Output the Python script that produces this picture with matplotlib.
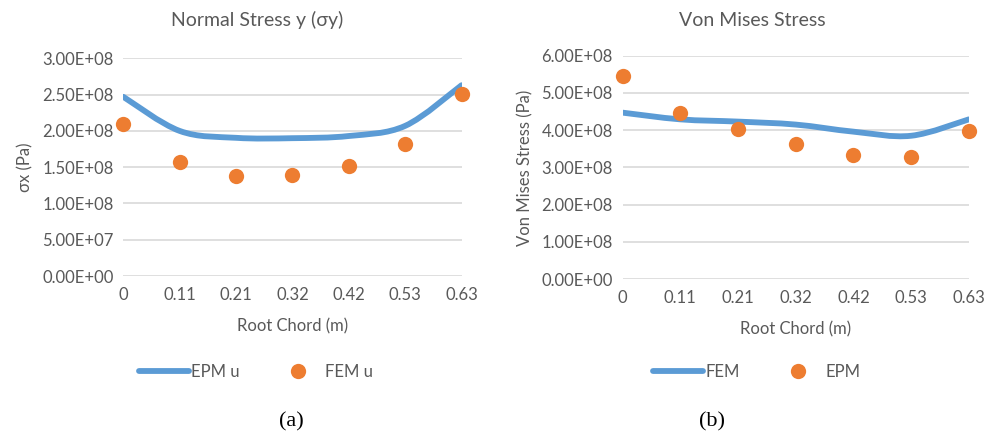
import matplotlib.pyplot as plt
import numpy as np
from matplotlib.path import Path
from matplotlib.patches import PathPatch
from matplotlib.ticker import FuncFormatter
from matplotlib.lines import Line2D

plt.rcParams["font.family"] = ["Lato", "DejaVu Sans"]

BLUE = "#5B9BD5"
ORANGE = "#ED7D31"
GRID = "#D9D9D9"
TXT = "#595959"

# 数据
chord_labels = ["0", "0.11", "0.21", "0.32", "0.42", "0.53", "0.63"]

sy_epm = [2.47e8, 2.00e8, 1.905e8, 1.90e8, 1.93e8, 2.07e8, 2.63e8]
sy_fem = [2.09e8, 1.566e8, 1.377e8, 1.395e8, 1.51e8, 1.82e8, 2.51e8]

vm_fem = [4.47e8, 4.29e8, 4.23e8, 4.15e8, 3.96e8, 3.85e8, 4.29e8]
vm_epm = [5.45e8, 4.47e8, 4.04e8, 3.63e8, 3.34e8, 3.28e8, 3.99e8]


def smooth_path(xs, ys):
    """Excel 风格平滑线：Catmull-Rom 转三次 Bezier。"""
    pts = np.column_stack([xs, ys]).astype(float)
    n = len(pts)
    verts = [pts[0]]
    codes = [Path.MOVETO]
    for i in range(n - 1):
        p0 = pts[i - 1] if i > 0 else pts[i]
        p1 = pts[i]
        p2 = pts[i + 1]
        p3 = pts[i + 2] if i + 2 < n else pts[i + 1]
        c1 = p1 + (p2 - p0) / 6.0
        c2 = p2 - (p3 - p1) / 6.0
        verts += [c1, c2, p2]
        codes += [Path.CURVE4] * 3
    return Path(verts, codes)


def setup(ax, ymax, step):
    ax.set_xlim(0, len(chord_labels) - 1)
    ax.set_ylim(0, ymax)
    ax.set_yticks(np.arange(0, ymax + step / 2, step))
    ax.yaxis.set_major_formatter(FuncFormatter(lambda v, p: f"{v:.2E}"))
    ax.set_xticks(range(len(chord_labels)))
    ax.set_xticklabels(chord_labels)
    ax.grid(axis="y", color=GRID, lw=1.2)
    ax.set_axisbelow(True)
    for s in ax.spines.values():
        s.set_visible(False)
    ax.tick_params(length=0, labelsize=12, colors=TXT, pad=8)
    ax.tick_params(axis="y", pad=7)


def draw(ax, line_y, dot_y):
    xs = np.arange(len(chord_labels))
    ax.add_patch(PathPatch(smooth_path(xs, line_y), fill=False,
                           edgecolor=BLUE, lw=4.2, capstyle="round", zorder=3))
    ax.plot(xs, dot_y, "o", color=ORANGE, ms=11, mec="none", zorder=4,
            clip_on=False)


fig = plt.figure(figsize=(9.89, 4.37), dpi=100)

ax1 = fig.add_axes([0.1247, 0.3684, 0.342, 0.498])
setup(ax1, 3.0e8, 0.5e8)
draw(ax1, sy_epm, sy_fem)
ax1.set_ylabel("σx (Pa)", fontsize=12, color=TXT, labelpad=6)
ax1.set_xlabel("Root Chord (m)", fontsize=12, color=TXT, labelpad=11)
fig.text(257 / 989, 1 - 20 / 437, "Normal Stress y (σy)", ha="center",
         va="center", fontsize=14, color=TXT)

ax2 = fig.add_axes([0.6296, 0.361, 0.350, 0.5117])
setup(ax2, 6.0e8, 1.0e8)
draw(ax2, vm_fem, vm_epm)
ax2.set_ylabel("Von Mises Stress (Pa)", fontsize=12, color=TXT, labelpad=6)
ax2.set_xlabel("Root Chord (m)", fontsize=12, color=TXT, labelpad=11)
fig.text(752 / 989, 1 - 20 / 437, "Von Mises Stress", ha="center",
         va="center", fontsize=14, color=TXT)

# 图例
h_line = Line2D([0], [0], color=BLUE, lw=4.2, solid_capstyle="round")
h_dot = Line2D([0], [0], marker="o", ls="none", color=ORANGE, ms=11, mec="none")
leg_kw = dict(loc="center", frameon=False, ncol=2, fontsize=12,
              labelcolor=TXT, handlelength=3.0, columnspacing=2.0,
              handletextpad=0.15)
fig.legend([h_line, h_dot], ["EPM u", "FEM u"],
           bbox_to_anchor=(256 / 989, 1 - 372 / 437), **leg_kw)
fig.legend([h_line, h_dot], ["FEM", "EPM"],
           bbox_to_anchor=(757 / 989, 1 - 372 / 437), **leg_kw)

fig.text(291 / 989, 1 - 422 / 437, "(a)", ha="center", va="center",
         fontsize=16, family="Liberation Serif", color="black")
fig.text(712 / 989, 1 - 422 / 437, "(b)", ha="center", va="center",
         fontsize=16, family="Liberation Serif", color="black")

fig.savefig("out.png", dpi=100, facecolor="white")
